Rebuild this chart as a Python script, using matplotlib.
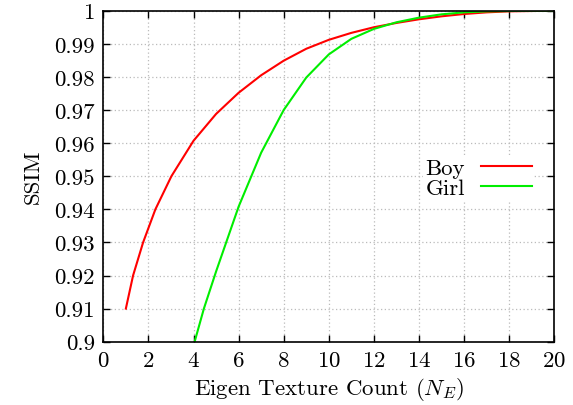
import matplotlib
matplotlib.use('Agg')
import matplotlib.pyplot as plt

# values (gridline crossings plus integer steps)
boy_x = [1, 1.32, 1.765, 2.31, 3.02, 4, 5, 6, 7, 8, 9, 10, 11, 12, 13,
         14, 15, 16, 17, 18, 19, 20]
boy_ssim = [0.910, 0.920, 0.930, 0.940, 0.950, 0.9607, 0.9688, 0.9752, 0.9805, 0.9849,
            0.9885, 0.9912, 0.9933, 0.9950, 0.9963, 0.9974, 0.9983, 0.9990,
            0.9995, 0.9998, 0.9999, 1.0]

girl_x = [4.05, 4.46, 5, 6, 7, 8, 9, 10, 11, 12, 13,
          14, 15, 16, 17, 18, 19, 20]
girl_ssim = [0.900, 0.910, 0.9212, 0.9408, 0.9571, 0.9700, 0.9798, 0.9868,
             0.9915, 0.9945, 0.9965, 0.9979, 0.9989, 0.9995, 0.9998, 0.9999,
             1.0, 1.0]

x_ticks = list(range(0, 21, 2))
y_ticks = [0.9, 0.91, 0.92, 0.93, 0.94, 0.95, 0.96, 0.97, 0.98, 0.99, 1.0]
y_tick_labels = ['0.9', '0.91', '0.92', '0.93', '0.94', '0.95', '0.96', '0.97',
                 '0.98', '0.99', '1']

plt.rcParams['font.family'] = ['cmr10', 'DejaVu Serif']
plt.rcParams['mathtext.fontset'] = 'cm'
plt.rcParams['axes.formatter.use_mathtext'] = True

fig = plt.figure(figsize=(5.73, 4.06), dpi=100)
ax = fig.add_axes([0.1803, 0.1559, 0.7871, 0.8153])

ax.plot(boy_x, boy_ssim, color='#ff0000', lw=1.5, label='Boy')
ax.plot(girl_x, girl_ssim, color='#00ee00', lw=1.5, label='Girl')

ax.set_xlim(0, 20)
ax.set_ylim(0.9, 1.0)
ax.set_xticks(x_ticks)
ax.set_yticks(y_ticks)
ax.set_yticklabels(y_tick_labels)

ax.grid(True, color='#bbbbbb', linestyle=(0, (1, 2)), linewidth=0.9)
ax.tick_params(direction='in', length=5, width=1, top=True, right=True,
               labelsize=16.5, pad=6)
for s in ax.spines.values():
    s.set_linewidth(1.2)

ax.set_xlabel('Eigen Texture Count ($N_E$)', fontsize=16.5, labelpad=4)
ax.set_ylabel('SSIM', fontsize=16.5, labelpad=8)

leg = ax.legend(loc='center right', bbox_to_anchor=(0.98, 0.495), fontsize=16.5,
                markerfirst=False, handlelength=2.2, handletextpad=0.7,
                labelspacing=0.02, borderpad=0.1, frameon=True, fancybox=False)
leg.get_frame().set_facecolor('white')
leg.get_frame().set_edgecolor('none')
leg.get_frame().set_alpha(1)

fig.savefig('out.png', dpi=100)
